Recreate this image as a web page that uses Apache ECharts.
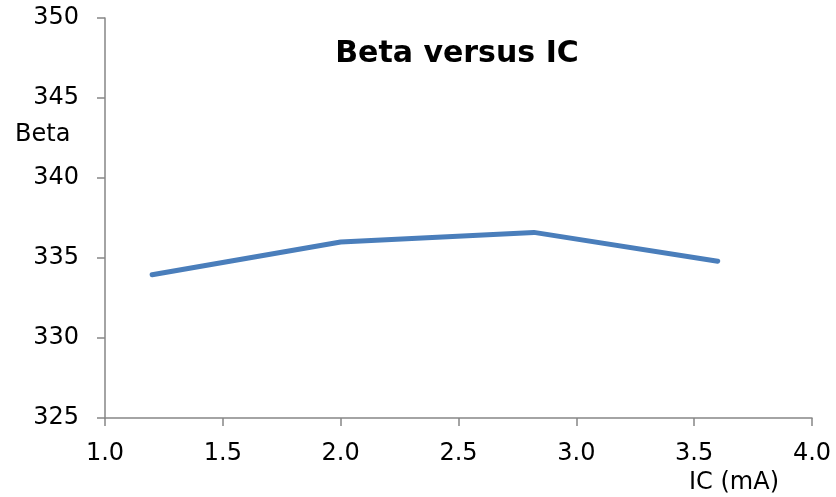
<!DOCTYPE html>
<html>
<head>
<meta charset="utf-8">
<script src="https://cdn.jsdelivr.net/npm/echarts@6/dist/echarts.min.js"></script>
<style>
  html, body { margin: 0; padding: 0; background: #fff; }
  #chart { width: 836px; height: 497px; }
</style>
</head>
<body>
<div id="chart"></div>
<script>
// data
const icValues = [1.2, 2.0, 2.82, 3.6];
const betaValues = [333.95, 336.0, 336.6, 334.8];

const mychart = echarts.init(document.getElementById('chart'));
const font = 'DejaVu Sans';
const axisGrey = '#868686';

const option = {
  animation: false,
  title: [
    {
      text: 'Beta versus IC',
      left: 452, top: 34, textAlign: 'center',
      textStyle: { fontFamily: font, fontSize: 30, fontWeight: 'bold', color: '#000' }
    },
    {
      text: 'Beta',
      left: 10, top: 118,
      textStyle: { fontFamily: font, fontSize: 24, fontWeight: 'normal', color: '#000' }
    },
    {
      text: 'IC (mA)',
      left: 684, top: 466,
      textStyle: { fontFamily: font, fontSize: 24, fontWeight: 'normal', color: '#000' }
    }
  ],
  grid: { left: 105, right: 24, top: 18, bottom: 79 },
  xAxis: {
    type: 'value',
    min: 1.0, max: 4.0, interval: 0.5,
    axisLine: { lineStyle: { color: axisGrey, width: 1.5 } },
    axisTick: { show: true, length: 8, lineStyle: { color: axisGrey, width: 1.5 } },
    axisLabel: {
      margin: 24, color: '#000', fontFamily: font, fontSize: 24,
      formatter: v => v.toFixed(1)
    },
    splitLine: { show: false }
  },
  yAxis: {
    type: 'value',
    min: 325, max: 350, interval: 5,
    axisLine: { show: true, lineStyle: { color: axisGrey, width: 1.5 } },
    axisTick: { show: true, length: 8, lineStyle: { color: axisGrey, width: 1.5 } },
    axisLabel: { margin: 26, color: '#000', fontFamily: font, fontSize: 24 },
    splitLine: { show: false }
  },
  series: [{
    type: 'line',
    data: icValues.map((x, i) => [x, betaValues[i]]),
    symbol: 'none',
    lineStyle: { color: '#4a7ebb', width: 5, cap: 'round', join: 'round' }
  }]
};

mychart.setOption(option);
window.addEventListener('resize', function () { mychart.resize(); });
</script>
</body>
</html>
